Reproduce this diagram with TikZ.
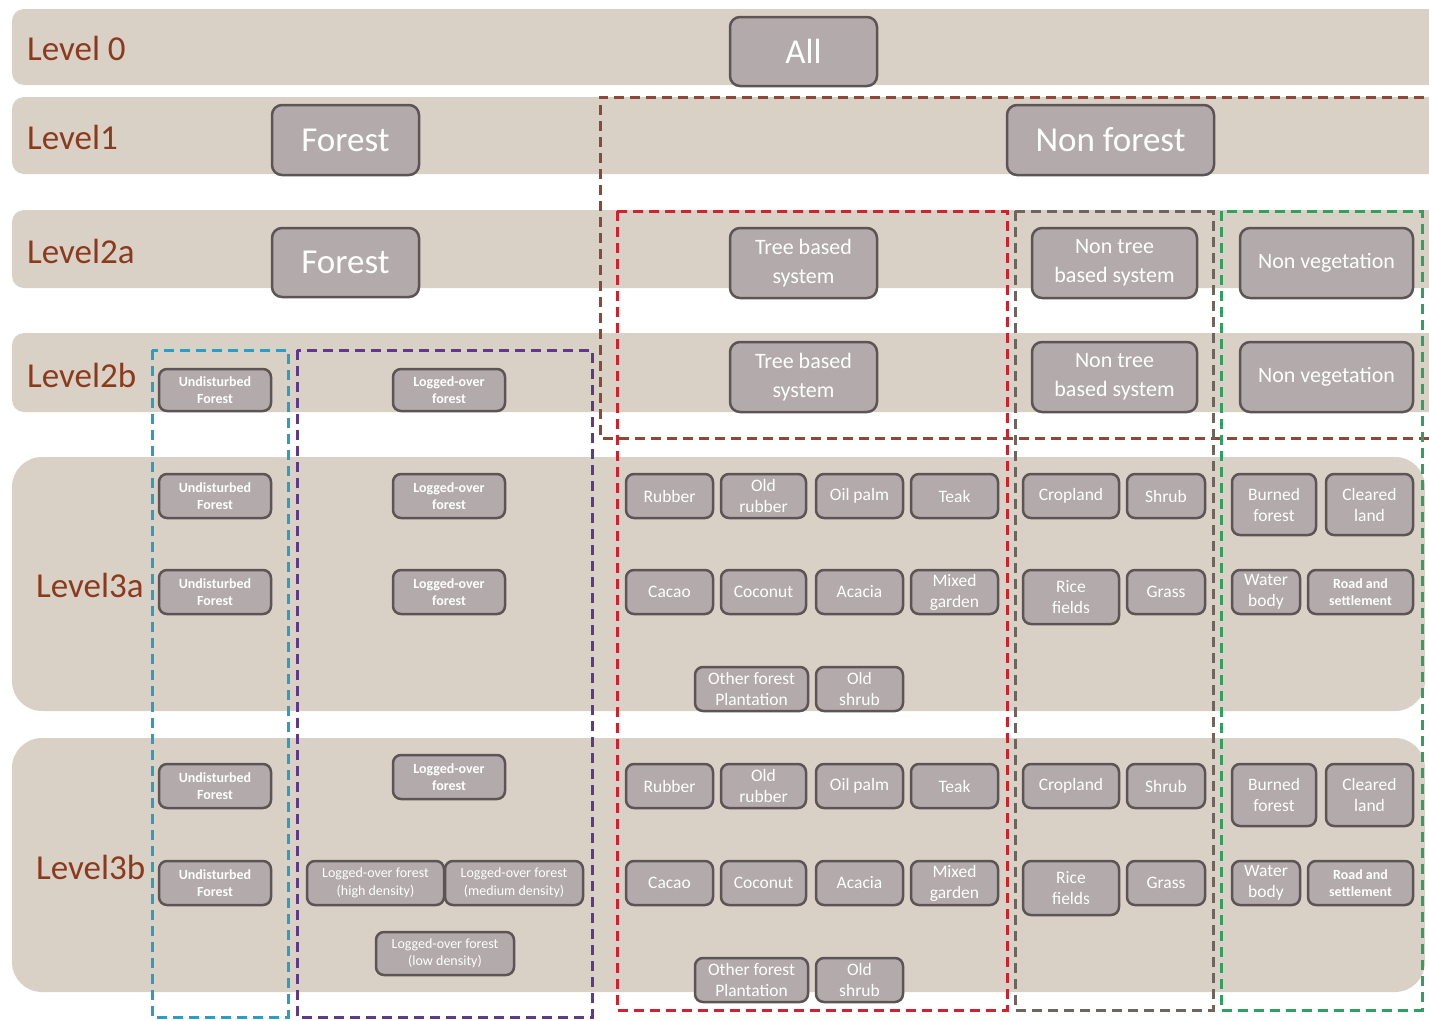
\documentclass[tikz,border=0pt]{standalone}
\usepackage{fontspec}
\setmainfont{Carlito}
\definecolor{bandc}{RGB}{217,209,197}
\definecolor{boxc}{RGB}{178,170,171}
\definecolor{boxd}{RGB}{92,84,85}
\definecolor{lvlc}{RGB}{139,58,30}
\definecolor{cyanc}{RGB}{40,160,196}
\definecolor{purc}{RGB}{96,58,136}
\definecolor{nfc}{RGB}{140,72,56}
\definecolor{redc}{RGB}{210,32,44}
\definecolor{greyc}{RGB}{112,100,94}
\definecolor{greenc}{RGB}{46,160,96}
\newcommand\mybox[7]{%
  \pgfmathsetmacro\bw{#5-#3}\pgfmathsetmacro\bh{#6-#4}%
  \pgfmathsetmacro\bcx{(#3+#5)/2}\pgfmathsetmacro\bcy{(#4+#6)/2}%
  \node[#2, minimum width=\bw pt, minimum height=\bh pt] (#1) at (\bcx,\bcy) {#7};}
\tikzset{
  band/.style={fill=bandc, draw=none},
  lvl/.style={text=lvlc, anchor=west, inner sep=0pt, font=\fontsize{35}{40}\selectfont},
  box/.style={draw=boxd, fill=boxc, line width=2.5pt, rounded corners=8pt, text=white, align=center, inner sep=0pt},
  bigbox/.style={box, rounded corners=10pt, font=\fontsize{35}{40}\selectfont},
  midbox/.style={box, rounded corners=10pt, font=\fontsize{22}{29}\selectfont},
  smallbox/.style={box, font=\fontsize{17.5}{21}\selectfont},
  tinybox/.style={box, font=\fontsize{14}{17.5}\selectfont\bfseries},
  thinbox/.style={box, font=\fontsize{14}{17.5}\selectfont},
  dashbox/.style={line width=3pt, dash pattern=on 10pt off 6pt},
}
\begin{document}
\begin{tikzpicture}[x=1pt,y=-1pt]
\useasboundingbox (0,0) rectangle (1429,1020);
\fill[white] (0,0) rectangle (1429,1020);
\clip (0,0) rectangle (1429,1020);
% bands
\fill[band, rounded corners=12pt] (12,9) rectangle (1470,85);
\fill[band, rounded corners=12pt] (12,97) rectangle (1470,174);
\fill[band, rounded corners=12pt] (12,210) rectangle (1470,288);
\fill[band, rounded corners=12pt] (12,333) rectangle (1470,412);
\fill[band, rounded corners=30pt] (12,457) rectangle (1425,711);
\fill[band, rounded corners=30pt] (12,738) rectangle (1425,992);
% level labels
\node[lvl] (L0) at (27,48) {Level 0};
\node[lvl] (L1) at (27,137) {Level1};
\node[lvl] (L2a) at (27,251) {Level2a};
\node[lvl] (L2b) at (27,375) {Level2b};
\node[lvl] (L3a) at (36,585) {Level3a};
\node[lvl] (L3b) at (36,867) {Level3b};
% dashed groups
\draw[dashbox, draw=cyanc] (152,350) rectangle (288,1017);
\draw[dashbox, draw=purc] (297,350) rectangle (592,1017);
\draw[dashbox, draw=nfc] (1440,97) -- (600,97) -- (600,438) -- (1440,438);
\draw[dashbox, draw=redc] (617,211) rectangle (1007,1010);
\draw[dashbox, draw=greyc] (1015,211) rectangle (1213,1010);
\draw[dashbox, draw=greenc] (1221,211) rectangle (1422,1010);
% level 0 / 1 / 2a
\mybox{all}{bigbox}{730}{17}{877}{86}{All}
\mybox{forest1}{bigbox}{272}{105}{419}{175}{Forest}
\mybox{nonforest}{bigbox}{1007}{105}{1214}{175}{Non forest}
\mybox{forest2}{bigbox}{272}{228}{419}{297}{Forest}
\mybox{treeA}{midbox}{730}{228}{877}{298}{Tree based\\system}
\mybox{nontreeA}{midbox}{1032}{228}{1197}{298}{Non tree\\based system}
\mybox{nonvegA}{midbox}{1240}{228}{1413}{298}{Non vegetation}
% level 2b
\mybox{undistB}{tinybox}{159}{369}{271}{411}{Undisturbed\\Forest}
\mybox{loggedB}{tinybox}{393}{369}{505}{411}{Logged-over\\forest}
\mybox{treeB}{midbox}{730}{342}{877}{412}{Tree based\\system}
\mybox{nontreeB}{midbox}{1032}{342}{1197}{412}{Non tree\\based system}
\mybox{nonvegB}{midbox}{1240}{342}{1413}{412}{Non vegetation}
% level 3a
\mybox{ua1}{tinybox}{159}{474}{271}{518}{Undisturbed\\Forest}
\mybox{la1}{tinybox}{393}{474}{505}{518}{Logged-over\\forest}
\mybox{ua2}{tinybox}{159}{570}{271}{614}{Undisturbed\\Forest}
\mybox{la2}{tinybox}{393}{570}{505}{614}{Logged-over\\forest}
\mybox{rubA}{smallbox}{626}{474}{713}{518}{Rubber}
\mybox{oldrubA}{smallbox}{721}{474}{806}{518}{Old\\rubber}
\mybox{oilA}{smallbox}{816}{474}{903}{518}{Oil palm}
\mybox{teakA}{smallbox}{911}{474}{998}{518}{Teak}
\mybox{cropA}{smallbox}{1023}{474}{1119}{518}{Cropland}
\mybox{shrubA}{smallbox}{1127}{474}{1205}{518}{Shrub}
\mybox{burnA}{smallbox}{1232}{474}{1316}{535}{Burned\\forest}
\mybox{clearA}{smallbox}{1326}{474}{1413}{535}{Cleared\\land}
\mybox{cacaoA}{smallbox}{626}{570}{713}{614}{Cacao}
\mybox{cocoA}{smallbox}{721}{570}{806}{614}{Coconut}
\mybox{acaciaA}{smallbox}{816}{570}{903}{614}{Acacia}
\mybox{mixedA}{smallbox}{911}{570}{998}{614}{Mixed\\garden}
\mybox{riceA}{smallbox}{1023}{570}{1119}{624}{Rice\\fields}
\mybox{grassA}{smallbox}{1127}{570}{1205}{614}{Grass}
\mybox{waterA}{smallbox}{1232}{570}{1300}{614}{Water\\body}
\mybox{roadA}{tinybox}{1308}{570}{1413}{614}{Road and\\settlement}
\mybox{otherA}{smallbox}{695}{667}{808}{711}{Other forest\\Plantation}
\mybox{oldshrubA}{smallbox}{816}{667}{903}{711}{Old\\shrub}
% level 3b
\mybox{ub1}{tinybox}{159}{764}{271}{808}{Undisturbed\\Forest}
\mybox{lb1}{tinybox}{393}{755}{505}{799}{Logged-over\\forest}
\mybox{ub2}{tinybox}{159}{861}{271}{905}{Undisturbed\\Forest}
\mybox{lbhigh}{thinbox}{307}{861}{444}{905}{Logged-over forest\\(high density)}
\mybox{lbmed}{thinbox}{445}{861}{583}{905}{Logged-over forest\\(medium density)}
\mybox{lblow}{thinbox}{376}{932}{514}{975}{Logged-over forest\\(low density)}
\mybox{rubB}{smallbox}{626}{764}{713}{808}{Rubber}
\mybox{oldrubB}{smallbox}{721}{764}{806}{808}{Old\\rubber}
\mybox{oilB}{smallbox}{816}{764}{903}{808}{Oil palm}
\mybox{teakB}{smallbox}{911}{764}{998}{808}{Teak}
\mybox{cropB}{smallbox}{1023}{764}{1119}{808}{Cropland}
\mybox{shrubB}{smallbox}{1127}{764}{1205}{808}{Shrub}
\mybox{burnB}{smallbox}{1232}{764}{1316}{826}{Burned\\forest}
\mybox{clearB}{smallbox}{1326}{764}{1413}{826}{Cleared\\land}
\mybox{cacaoB}{smallbox}{626}{861}{713}{905}{Cacao}
\mybox{cocoB}{smallbox}{721}{861}{806}{905}{Coconut}
\mybox{acaciaB}{smallbox}{816}{861}{903}{905}{Acacia}
\mybox{mixedB}{smallbox}{911}{861}{998}{905}{Mixed\\garden}
\mybox{riceB}{smallbox}{1023}{861}{1119}{915}{Rice\\fields}
\mybox{grassB}{smallbox}{1127}{861}{1205}{905}{Grass}
\mybox{waterB}{smallbox}{1232}{861}{1300}{905}{Water\\body}
\mybox{roadB}{tinybox}{1308}{861}{1413}{905}{Road and\\settlement}
\mybox{otherB}{smallbox}{695}{958}{808}{1002}{Other forest\\Plantation}
\mybox{oldshrubB}{smallbox}{816}{958}{903}{1002}{Old\\shrub}
\end{tikzpicture}
\end{document}
